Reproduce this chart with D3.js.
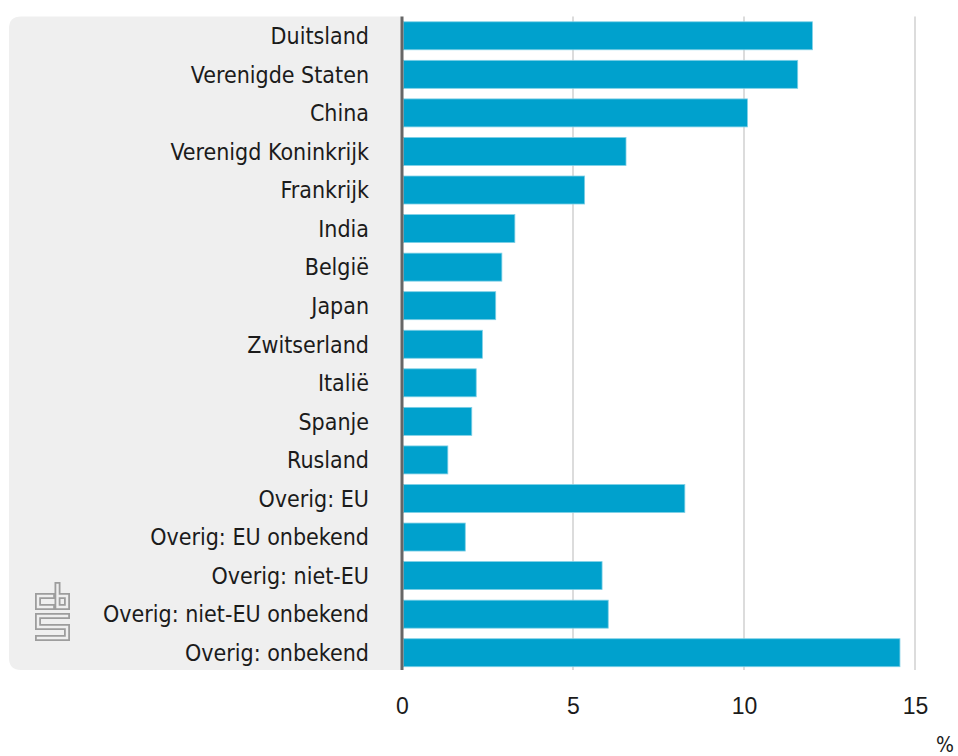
<!DOCTYPE html>
<html>
<head>
<script src="https://d3js.org/d3.v7.min.js"></script>
<style type="text/css">
  body { margin: 0; background: #fff; }
  svg { font-family: "DejaVu Sans Condensed", "DejaVu Sans", sans-serif; font-stretch: condensed; }
  .label { font-size: 23px; fill: #1b1b1b; }
  .tick text { font-size: 23px; fill: #1b1b1b; }
</style>
</head>
<body>
<script type="text/javascript">
var landen = ["Duitsland", "Verenigde Staten", "China", "Verenigd Koninkrijk", "Frankrijk",
  "India", "België", "Japan", "Zwitserland", "Italië", "Spanje", "Rusland", "Overig: EU",
  "Overig: EU onbekend", "Overig: niet-EU", "Overig: niet-EU onbekend", "Overig: onbekend"];
var aandeel = [12.0, 11.57, 10.1, 6.55, 5.34, 3.3, 2.92, 2.74, 2.35, 2.17, 2.04, 1.34, 8.27,
  1.85, 5.85, 6.03, 14.56];
var ticks = [0, 5, 10, 15];

var width = 958, height = 756;

var svg = d3.select("body").append("svg")
  .attr("width", width)
  .attr("height", height);

var x = d3.scaleLinear().domain([0, 15]).range([402, 915]);
var y = d3.scaleBand().domain(landen).range([16.5, 672]).paddingInner(0.274).paddingOuter(0.137);

var yTop = y.range()[0], yBottom = y.range()[1] - 2;

// grijs paneel achter de labels
svg.append("path")
  .attr("fill", "#efefef")
  .attr("d", "M" + (x(0) - 1) + "," + yTop + "H21Q9," + yTop + " 9," + (yTop + 12) +
    "V" + (yBottom - 12) + "Q9," + yBottom + " 21," + yBottom + "H" + (x(0) - 1) + "Z");

// rasterlijnen
svg.append("g")
  .selectAll("line")
  .data(ticks.slice(1))
  .enter().append("line")
  .attr("x1", function (d) { return x(d); })
  .attr("x2", function (d) { return x(d); })
  .attr("y1", yTop)
  .attr("y2", yBottom)
  .attr("stroke", "#dcdcdc")
  .attr("stroke-width", 2);

// staven
svg.append("g")
  .selectAll("rect")
  .data(landen)
  .enter().append("rect")
  .attr("x", x(0) + 1.5)
  .attr("y", function (d) { return y(d); })
  .attr("width", function (d, i) { return x(aandeel[i]) - x(0) - 1.5; })
  .attr("height", y.bandwidth())
  .attr("fill", "#00a1cd")
  .attr("stroke", "#7fd0e6")
  .attr("stroke-width", 0.8);

// as
svg.append("line")
  .attr("x1", x(0)).attr("x2", x(0))
  .attr("y1", yTop).attr("y2", yBottom)
  .attr("stroke", "#666")
  .attr("stroke-width", 3);

// categorielabels
svg.append("g")
  .selectAll("text")
  .data(landen)
  .enter().append("text")
  .attr("class", "label")
  .attr("x", 369)
  .attr("y", function (d) { return y(d) + y.bandwidth() / 2; })
  .attr("dy", "0.36em")
  .attr("text-anchor", "end")
  .text(function (d) { return d; });

// x-as labels
var xAxis = svg.append("g")
  .attr("transform", "translate(0,697)")
  .call(d3.axisBottom(x).tickValues(ticks).tickSize(0).tickPadding(0).tickFormat(d3.format("d")));
xAxis.select(".domain").remove();
xAxis.selectAll(".tick text").attr("font-family", null).attr("dy", "0.75em");

svg.append("text")
  .attr("class", "label")
  .attr("x", 954)
  .attr("y", 752)
  .attr("text-anchor", "end")
  .style("font-size", "21px")
  .text("%");

// cbs logo
var logo = svg.append("g")
  .attr("transform", "translate(35,583)")
  .attr("fill", "none")
  .attr("stroke-linejoin", "miter")
  .attr("stroke-linecap", "square");
var logoPaden = [
  "M17,13H3V24H17",
  "M22.5,2V24H32V13H22.5",
  "M32,33H3V44H32V55H3"
];
logo.selectAll("path.buiten").data(logoPaden).enter().append("path")
  .attr("class", "buiten")
  .attr("d", function (d) { return d; })
  .attr("stroke", "#9d9d9d").attr("stroke-width", 6);
logo.selectAll("path.binnen").data(logoPaden).enter().append("path")
  .attr("class", "binnen")
  .attr("d", function (d) { return d; })
  .attr("stroke", "#efefef").attr("stroke-width", 2.4);
</script>
</body>
</html>
